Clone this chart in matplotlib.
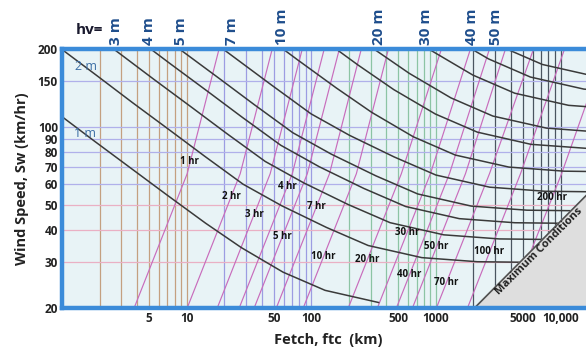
import matplotlib.pyplot as plt
from matplotlib.ticker import FixedLocator, NullLocator

plt.rcParams['font.family'] = ['Open Sans', 'DejaVu Sans']

# axis ticks
speed_ticks = [20, 30, 40, 50, 60, 70, 80, 90, 100, 150, 200]
fetch_ticks = [5, 10, 50, 100, 500, 1000, 5000, 10000]
fetch_tick_labels = ["5", "10", "50", "100", "500", "1000", "5000", "10,000"]

# grid lines (fetch in km, speed in km/h)
grid_fetch_1 = [2, 3, 4, 5, 6, 7, 8, 9, 10]
grid_fetch_10 = [20, 30, 40, 50, 60, 70, 80, 90, 100]
grid_fetch_100 = [200, 300, 400, 500, 600, 700, 800, 900, 1000]
grid_fetch_1000 = [2000, 3000, 4000, 5000, 6000, 7000, 8000, 9000, 10000]
grid_speed_high = [60, 70, 80, 90, 100, 150]
grid_speed_low = [30, 40, 50]

# wave height curves: fetch (km) vs wind speed (km/h)
fetch_1m = [0.255, 0.482, 0.968, 1.83, 3.69, 7.00, 14.2, 27.5, 59.4, 129, 347]
speed_1m = [179.9, 142.8, 110.9, 88.0, 68.5, 54.5, 42.5, 34.2, 27.5, 23.4, 21.0]
fetch_2m = [0.509, 0.963, 1.94, 3.65, 7.38, 14.0, 28.4, 58.1, 132, 286, 770, 2150, 7070]
speed_2m = [254.4, 201.9, 156.8, 124.5, 96.9, 77.0, 60.1, 49.6, 40.96, 34.86, 31.3, 30.18, 29.98]
fetch_3m = [0.764, 1.44, 2.90, 5.48, 11.1, 21.0, 42.7, 87.2, 198, 429, 1155, 3220, 10600]
speed_3m = [311.6, 247.3, 192.1, 152.5, 118.6, 94.3, 73.6, 60.8, 50.16, 42.7, 38.33, 36.96, 36.72]
fetch_4m = [1.93, 3.87, 7.31, 14.8, 28.0, 56.9, 116, 264, 572, 1540, 4300, 14100]
speed_4m = [285.6, 221.8, 176.1, 137.0, 108.9, 85.0, 70.2, 57.9, 49.3, 44.26, 42.68, 42.4]
fetch_5m = [2.41, 4.84, 9.14, 18.5, 35.0, 71.1, 145, 330, 715, 1925, 5370, 17700]
speed_5m = [319.3, 248.0, 196.9, 153.2, 121.8, 95.0, 78.5, 64.76, 55.12, 49.48, 47.72, 47.4]
fetch_7m = [6.77, 12.8, 25.8, 49.0, 99.5, 203, 462, 1000, 2700, 7520, 24700]
speed_7m = [293.4, 232.9, 181.2, 144.1, 112.4, 92.8, 76.62, 65.22, 58.55, 56.46, 56.1]
fetch_10m = [10.75, 20.3, 41.0, 77.8, 158, 306, 660, 1430, 3850, 10700, 35400]
speed_10m = [369.7, 293.5, 228.3, 181.5, 141.7, 113.8, 91.6, 77.9, 70.0, 67.5, 67.0]
fetch_15m = [30.5, 61.5, 117, 237, 459, 990, 2150, 5780, 16100]
speed_15m = [359.4, 279.6, 222.3, 173.5, 139.4, 112.2, 95.5, 85.7, 82.7]
fetch_20m = [82.0, 156, 316, 612, 1320, 2860, 7700, 21500]
speed_20m = [322.9, 256.7, 200.4, 161.0, 129.5, 110.2, 99.0, 95.4]
fetch_30m = [233, 474, 918, 1980, 4290, 11600, 32200]
speed_30m = [314.4, 245.4, 197.2, 158.6, 135.0, 121.2, 116.9]
fetch_40m = [632, 1220, 2640, 5720, 15400, 43000]
speed_40m = [283.3, 227.7, 183.2, 155.9, 140.0, 135.0]
fetch_50m = [790, 1530, 3300, 7150, 19300]
speed_50m = [316.8, 254.6, 204.8, 174.3, 156.5]

# height labels along the top edge
top_labels = ["3 m", "4 m", "5 m", "7 m", "10 m", "20 m", "30 m", "40 m", "50 m"]
top_label_fetch = [2.72, 5.0, 9.0, 23.2, 58.5, 352, 839, 1965, 3061]

# duration lines: fetch (km) at the three speeds below
duration_speed = [20, 66, 200]
dur_1h = [3.79, 10.1, 18.2]
dur_2h = [10.1, 26.9, 48.6]
dur_3h = [17.6, 46.8, 84.7]
dur_4h = [26.4, 70.4, 127]
dur_5h = [34.8, 92.9, 168]
dur_7h = [52.4, 140, 252]
dur_10h = [86.2, 230, 416]
dur_20h = [198, 528, 1107]
dur_30h = [339, 903, 1893]
dur_40h = [482, 1284, 2690]
dur_50h = [648, 1726, 3615]
dur_70h = [1009, 2690, 6069]
dur_100h = [1791, 4772, 10770]
dur_200h = [3822, 10190, 22990]

dur_labels = ["1 hr", "2 hr", "3 hr", "4 hr", "5 hr", "7 hr", "10 hr", "20 hr",
              "30 hr", "40 hr", "50 hr", "70 hr", "100 hr", "200 hr"]
dur_label_fetch = [10.5, 22.8, 34.8, 64.1, 58.5, 110, 125, 282, 590, 613, 1009, 1214, 2690, 8620]
dur_label_speed = [73.3, 54.1, 46.0, 59.1, 37.8, 49.4, 31.6, 30.7, 39.2, 26.9, 34.5, 25.0, 33.0, 53.6]

# fully developed limit
max_fetch = [2040, 16000]
max_speed = [20, 54.3]

fig = plt.figure(figsize=(5.86, 3.51), dpi=100)
ax = fig.add_axes([62 / 586, 43 / 351, 524 / 586, 259 / 351])
ax.set_xscale('log')
ax.set_yscale('log')
ax.set_xlim(1, 16000)
ax.set_ylim(20, 200)
ax.set_facecolor('#e8f3f6')

# grid
for xs, col in [(grid_fetch_1, '#c4a080'), (grid_fetch_10, '#9c9ce2'),
                (grid_fetch_100, '#8cc4a4'), (grid_fetch_1000, '#4a5560')]:
    for x in xs:
        ax.axvline(x, color=col, lw=0.9, zorder=1)
for y in grid_speed_high:
    ax.axhline(y, color='#b0b0ea', lw=0.9, zorder=1)
for y in grid_speed_low:
    ax.axhline(y, color='#eab0c4', lw=0.9, zorder=1)

# duration lines
for f in [dur_1h, dur_2h, dur_3h, dur_4h, dur_5h, dur_7h, dur_10h, dur_20h,
          dur_30h, dur_40h, dur_50h, dur_70h, dur_100h, dur_200h]:
    ax.plot(f, duration_speed, color='#c86cbc', lw=0.85, zorder=2)

# wave height curves
curves = [(fetch_1m, speed_1m), (fetch_2m, speed_2m), (fetch_3m, speed_3m),
          (fetch_4m, speed_4m), (fetch_5m, speed_5m), (fetch_7m, speed_7m),
          (fetch_10m, speed_10m), (fetch_15m, speed_15m), (fetch_20m, speed_20m),
          (fetch_30m, speed_30m), (fetch_40m, speed_40m), (fetch_50m, speed_50m)]
for f, s in curves:
    ax.plot(f, s, color='#3a3a3a', lw=1.1, zorder=3)

# maximum conditions region
ax.fill([max_fetch[0], max_fetch[1], max_fetch[1]], [max_speed[0], max_speed[1], max_speed[0]],
        color='#dedede', zorder=4)
ax.plot(max_fetch, max_speed, color='#505050', lw=1.2, zorder=5)
ax.text(6780, 33.0, "Maximum Conditions", rotation=45, rotation_mode='anchor',
        ha='center', va='center', fontsize=8, fontweight='bold', color='#222222', zorder=6)

for lab, f, s in zip(dur_labels, dur_label_fetch, dur_label_speed):
    ax.text(f, s, lab, ha='center', va='center', fontsize=7, fontweight='bold',
            color='#111111', zorder=6)

ax.text(1.56, 171.8, "2 m", ha='center', va='center', fontsize=9, color='#3d6fa6', zorder=6)
ax.text(1.53, 94.3, "1 m", ha='center', va='center', fontsize=9, color='#3d6fa6', zorder=6)

for lab, f in zip(top_labels, top_label_fetch):
    ax.annotate(lab, xy=(f, 1), xycoords=('data', 'axes fraction'), xytext=(0, 3),
                textcoords='offset points', rotation=90, ha='center', va='bottom',
                fontsize=11, fontweight='bold', color='#1f4e8c', annotation_clip=False)
fig.text(89 / 586, 1 - 30 / 351, "hv=", ha='center', va='center', fontsize=11,
         fontweight='bold', color='#1a1a2e')

# frame and ticks
for side in ['left', 'top', 'bottom']:
    ax.spines[side].set_color('#3b8bd9')
    ax.spines[side].set_linewidth(3.2)
    ax.spines[side].set_zorder(7)
ax.spines['right'].set_visible(False)

ax.xaxis.set_major_locator(FixedLocator(fetch_ticks))
ax.xaxis.set_minor_locator(NullLocator())
ax.set_xticklabels(fetch_tick_labels)
ax.yaxis.set_major_locator(FixedLocator(speed_ticks))
ax.yaxis.set_minor_locator(NullLocator())
ax.set_yticklabels([str(v) for v in speed_ticks])
ax.tick_params(length=0, pad=3, labelsize=8.5, labelcolor='#222222')
for t in ax.get_xticklabels() + ax.get_yticklabels():
    t.set_fontweight('bold')

ax.set_xlabel("Fetch, ftc  (km)", fontsize=10.5, fontweight='bold', color='#222222')
ax.xaxis.set_label_coords((328 - 62) / 524, -0.095)
ax.set_ylabel("Wind Speed, Sw (km/hr)", fontsize=10.5, fontweight='bold', color='#222222', labelpad=6)

fig.savefig("out.png", dpi=100)
